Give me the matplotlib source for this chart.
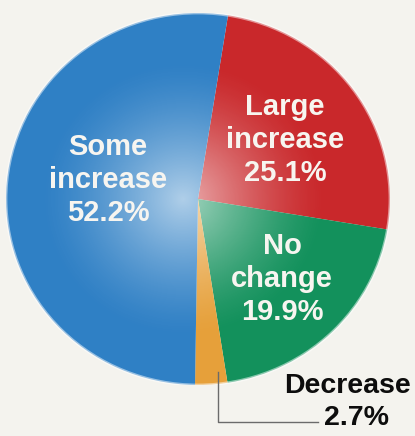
import numpy as np
import matplotlib.pyplot as plt
from matplotlib.patches import Ellipse

# survey answers
labels = ['Large\nincrease', 'No\nchange', 'Decrease', 'Some\nincrease']
shares = [25.1, 19.9, 2.7, 52.2]
colors = ['#c9282b', '#13915c', '#e6a03a', '#2f80c5']

W, H = 415, 436
fig = plt.figure(figsize=(W / 100, H / 100), dpi=100)
fig.patch.set_facecolor('#f4f3ee')

# axes placed on the pie's pixel extent (slightly squashed circle)
left, right, top, bottom = 6, 390, 13, 385
ax = fig.add_axes([left / W, 1 - bottom / H, (right - left) / W, (bottom - top) / H])
wedges, _ = ax.pie(shares, colors=colors, startangle=81, counterclock=False,
                   radius=1, wedgeprops=dict(linewidth=0))
ax.set_aspect('auto')
ax.set_xlim(-1, 1)
ax.set_ylim(-1, 1)
ax.axis('off')

# soft light in the middle
yy, xx = np.mgrid[-1:1:400j, -1:1:400j]
r = np.hypot(xx + 0.08, yy)
alpha = 0.62 * np.clip(1 - r / 0.75, 0, 1) ** 1.4
glow = np.zeros((400, 400, 4))
glow[..., :3] = 1.0
glow[..., 3] = alpha
im = ax.imshow(glow, extent=(-1, 1, -1, 1), origin='lower', zorder=3, aspect='auto')
im.set_clip_path(Ellipse((0, 0), 2, 2, transform=ax.transData))
ax.add_patch(Ellipse((0, 0), 2.0, 2.0, fill=False, ec='#ffffff', lw=2, alpha=0.5, zorder=4))


def px(x, y):
    return x / W, 1 - y / H


txt = dict(ha='center', va='center', color='#f7f5f0', fontsize=21,
           fontweight='bold', family='Liberation Sans', linespacing=1.22)
fig.text(*px(108, 180), f'{labels[3]}\n{shares[3]}%', **txt)
fig.text(*px(285, 140), f'{labels[0]}\n{shares[0]}%', **txt)
fig.text(*px(282, 279), f'{labels[1]}\n{shares[1]}%', **txt)

# decrease callout
fig.add_artist(plt.Line2D([218 / W, 218 / W, 318 / W], [1 - 372 / H, 1 - 422 / H, 1 - 422 / H],
                          color='#6b6b6b', lw=1))
fig.text(*px(347, 386), labels[2], ha='center', va='center', color='#0d0d0d',
         fontsize=20.5, fontweight='bold', family='Liberation Sans')
fig.text(*px(356, 418), f'{shares[2]}%', ha='center', va='center', color='#0d0d0d',
         fontsize=20.5, fontweight='bold', family='Liberation Sans')

fig.savefig('out.png', dpi=100, facecolor=fig.get_facecolor())
